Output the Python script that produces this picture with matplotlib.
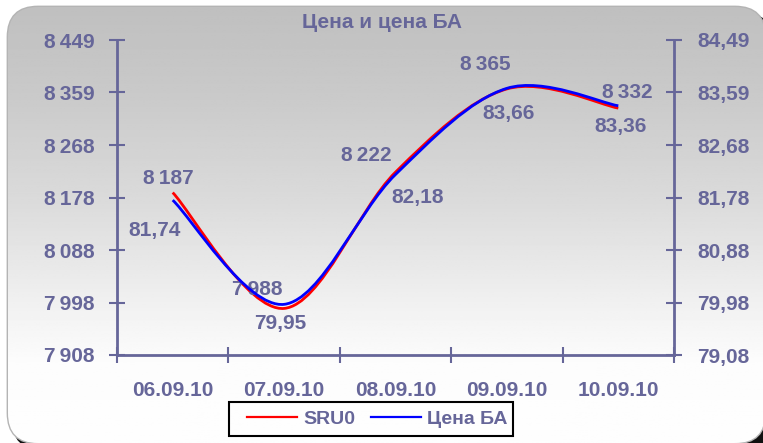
import matplotlib.pyplot as plt
import numpy as np
from matplotlib.path import Path
from matplotlib.patches import PathPatch, FancyBboxPatch, Rectangle

# %% data
dates = ['06.09.10', '07.09.10', '08.09.10', '09.09.10', '10.09.10']
sru0 = [8187, 7988, 8222, 8365, 8332]
price_ba = [81.74, 79.95, 82.18, 83.66, 83.36]

left_ticks = [7908, 7998, 8088, 8178, 8268, 8359, 8449]
right_ticks = [79.08, 79.98, 80.88, 81.78, 82.68, 83.59, 84.49]

# label offsets in pixels (dx, dy)
sru0_offsets = [(-4, 14), (-27, 19), (-29, 17), (-22, 24), (9, 16)]
ba_offsets = [(-18, -30), (-4, -19), (22, -23), (2, -25), (2, -21)]

txt = '#666699'
plt.rcParams['font.family'] = ['Liberation Sans', 'DejaVu Sans']
plt.rcParams['font.weight'] = 'bold'
fs = 15
SP = '\u2009'  # thin space as thousands separator


def thousands(v):
    return f'{v:,}'.replace(',', SP)


def comma(v):
    return f'{v:.2f}'.replace('.', ',')


def smooth_path(x, y):
    # excel-like smoothed line, bezier through the points
    x = np.asarray(x, float)
    y = np.asarray(y, float)
    n = len(x)
    verts = [(x[0], y[0])]
    codes = [Path.MOVETO]
    for i in range(n - 1):
        p0 = max(i - 1, 0)
        p3 = min(i + 2, n - 1)
        c1 = (x[i] + (x[i + 1] - x[p0]) / 6, y[i] + (y[i + 1] - y[p0]) / 6)
        c2 = (x[i + 1] - (x[p3] - x[i]) / 6, y[i + 1] - (y[p3] - y[i]) / 6)
        verts += [c1, c2, (x[i + 1], y[i + 1])]
        codes += [Path.CURVE4] * 3
    return Path(verts, codes)


fig = plt.figure(figsize=(7.63, 4.43), dpi=100)

# %% background box with gradient (box runs off the right/bottom edge)
bg = fig.add_axes([0, 0, 1, 1])
bg.set_xlim(0, 763)
bg.set_ylim(443, 0)
bg.axis('off')

shadow = FancyBboxPatch((12, 12), 760, 438, boxstyle='round,pad=0,rounding_size=30',
                        fc='#101010', ec='none', zorder=0)
bg.add_patch(shadow)
box = FancyBboxPatch((8, 7), 757, 436, boxstyle='round,pad=0,rounding_size=30',
                     fc='white', ec='#b4b4b4', lw=2, zorder=1)
bg.add_patch(box)
rows = np.linspace(0, 1, 256)
shade = np.interp(rows, [0, 0.2, 0.45, 0.7, 0.82, 1.0], [0.75, 0.79, 0.86, 0.95, 0.99, 0.995])
grad = np.repeat(shade[:, None], 2, axis=1)
im = bg.imshow(grad, cmap='gray', vmin=0, vmax=1, extent=(8, 765, 443, 7),
               aspect='auto', zorder=2)
im.set_clip_path(box)
bg.add_patch(Rectangle((229, 402), 284, 34, fc='none', ec='black', lw=1.5, zorder=3))

fig.text(0.5, 1 - 22 / 443, 'Цена и цена БА', ha='center', va='center',
         color=txt, fontsize=fs, fontweight='bold')

# %% main axes
ax = fig.add_axes([117 / 763, 1 - 355 / 443, (674 - 117) / 763, (355 - 40) / 443])
ax.set_facecolor('none')
ax2 = ax.twinx()

xs = np.arange(len(dates))
ax.set_xlim(-0.5, len(dates) - 0.5)
ax.set_ylim(left_ticks[0], left_ticks[-1])
ax2.set_ylim(right_ticks[0], right_ticks[-1])

ax.add_patch(PathPatch(smooth_path(xs, sru0), fc='none', ec='#ff0000', lw=2, zorder=3))
ax2.add_patch(PathPatch(smooth_path(xs, price_ba), fc='none', ec='#0000ff', lw=2, zorder=3))

for x, v, (dx, dy) in zip(xs, sru0, sru0_offsets):
    ax.annotate(thousands(v), (x, v), xytext=(dx, dy), textcoords='offset pixels',
                ha='center', va='center', color=txt, fontsize=fs, fontweight='bold')
for x, v, (dx, dy) in zip(xs, price_ba, ba_offsets):
    ax2.annotate(comma(v), (x, v), xytext=(dx, dy), textcoords='offset pixels',
                 ha='center', va='center', color=txt, fontsize=fs, fontweight='bold')

for a in (ax, ax2):
    for s in a.spines.values():
        s.set_visible(False)
ax.spines['bottom'].set_visible(True)
ax.spines['left'].set_visible(True)
ax2.spines['right'].set_visible(True)
for s in (ax.spines['bottom'], ax.spines['left'], ax2.spines['right']):
    s.set_color(txt)
    s.set_linewidth(2)

ax.set_yticks(left_ticks)
ax.set_yticklabels([thousands(t) for t in left_ticks], fontweight='bold')
ax2.set_yticks(right_ticks)
ax2.set_yticklabels([comma(t) for t in right_ticks], fontweight='bold')
ax.tick_params(axis='y', direction='inout', length=12, width=1.5, color=txt,
               labelcolor=txt, labelsize=fs, pad=10)
ax2.tick_params(axis='y', direction='inout', length=12, width=1.5, color=txt,
                labelcolor=txt, labelsize=fs, pad=11)

ax.set_xticks(np.arange(-0.5, len(dates)))
ax.set_xticklabels([])
ax.set_xticks(xs, minor=True)
ax.set_xticklabels(dates, minor=True, fontweight='bold')
ax.tick_params(axis='x', which='major', direction='inout', length=12, width=1.5, color=txt)
ax.tick_params(axis='x', which='minor', length=0, labelcolor=txt, labelsize=fs, pad=19)

# legend
h1, = ax.plot([], [], color='#ff0000', lw=1.6, label='SRU0')
h2, = ax.plot([], [], color='#0000ff', lw=1.6, label='Цена БА')
leg = fig.legend(handles=[h1, h2], loc='center', bbox_to_anchor=(377 / 763, 1 - 419 / 443),
                 ncol=2, frameon=False, fontsize=14, labelcolor=txt, handlelength=2.6,
                 columnspacing=0.8, handletextpad=0.3, borderpad=0.0)
for t in leg.get_texts():
    t.set_fontweight('bold')

plt.savefig('out.png', dpi=100)
